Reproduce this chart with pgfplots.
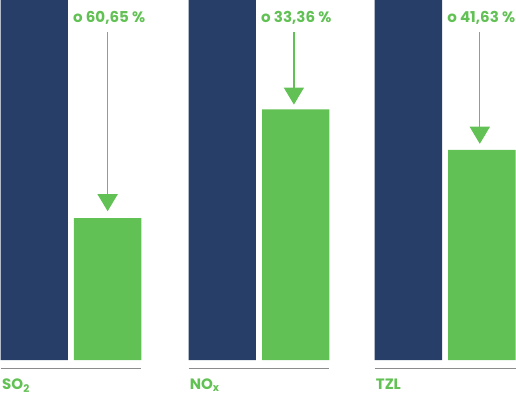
\documentclass[border=0pt]{standalone}
\usepackage{pgfplots}
\pgfplotsset{compat=1.18}
\usepackage{fontspec}
\setmainfont{Poppins}
\usetikzlibrary{arrows.meta}
\definecolor{navy}{RGB}{38,62,104}
\definecolor{grn}{RGB}{98,193,84}
\definecolor{rule}{RGB}{140,140,140}
\begin{document}
\begin{tikzpicture}
\begin{axis}[
  scale only axis, width=516bp, height=398bp,
  xmin=0, xmax=516, ymin=-11.173, ymax=100,
  hide axis, clip=false,
  ybar, bar width=67, bar shift=0pt,
]
% before (100 %)
\addplot[fill=navy, draw=none] coordinates {(34.5,100) (221.5,100) (406.5,100)};
% after
\addplot[fill=grn, draw=none] coordinates {(107.5,39.4) (294.5,69.6) (479.5,58.4)};
\end{axis}
\begin{axis}[
  scale only axis, width=516bp, height=398bp,
  xmin=0, xmax=516, ymin=-11.173, ymax=100,
  hide axis, clip=false,
]
\addplot[rule, line width=1pt] coordinates {(1,-2.23) (141,-2.23)};
\addplot[rule, line width=1pt] coordinates {(188,-2.23) (328,-2.23)};
\addplot[rule, line width=1pt] coordinates {(373,-2.23) (513,-2.23)};
\draw[grn, line width=1.2pt, -{Triangle[width=20bp,length=17bp]}] (axis cs:107.5,91.06) -- (axis cs:107.5,41.34);
\draw[grn, line width=1.2pt, -{Triangle[width=20bp,length=17bp]}] (axis cs:292.7,91.06) -- (axis cs:292.7,70.95);
\draw[grn, line width=1.2pt, -{Triangle[width=20bp,length=17bp]}] (axis cs:477.5,91.06) -- (axis cs:477.5,60.06);
\begin{scope}[every node/.style={text=grn, font=\fontsize{15}{17}\selectfont\bfseries, inner sep=0pt}]
\node[anchor=west] at (axis cs:73,95.0) {o 60,65 \%};
\node[anchor=west] at (axis cs:260,95.0) {o 33,36 \%};
\node[anchor=west] at (axis cs:445,95.0) {o 41,63 \%};
\node[anchor=base west] at (axis cs:2.5,-8.1) {SO\textsubscript{2}};
\node[anchor=base west] at (axis cs:189,-8.1) {NO\textsubscript{x}};
\node[anchor=base west] at (axis cs:374,-8.1) {TZL};
\end{scope}
\end{axis}
\end{tikzpicture}
\end{document}
